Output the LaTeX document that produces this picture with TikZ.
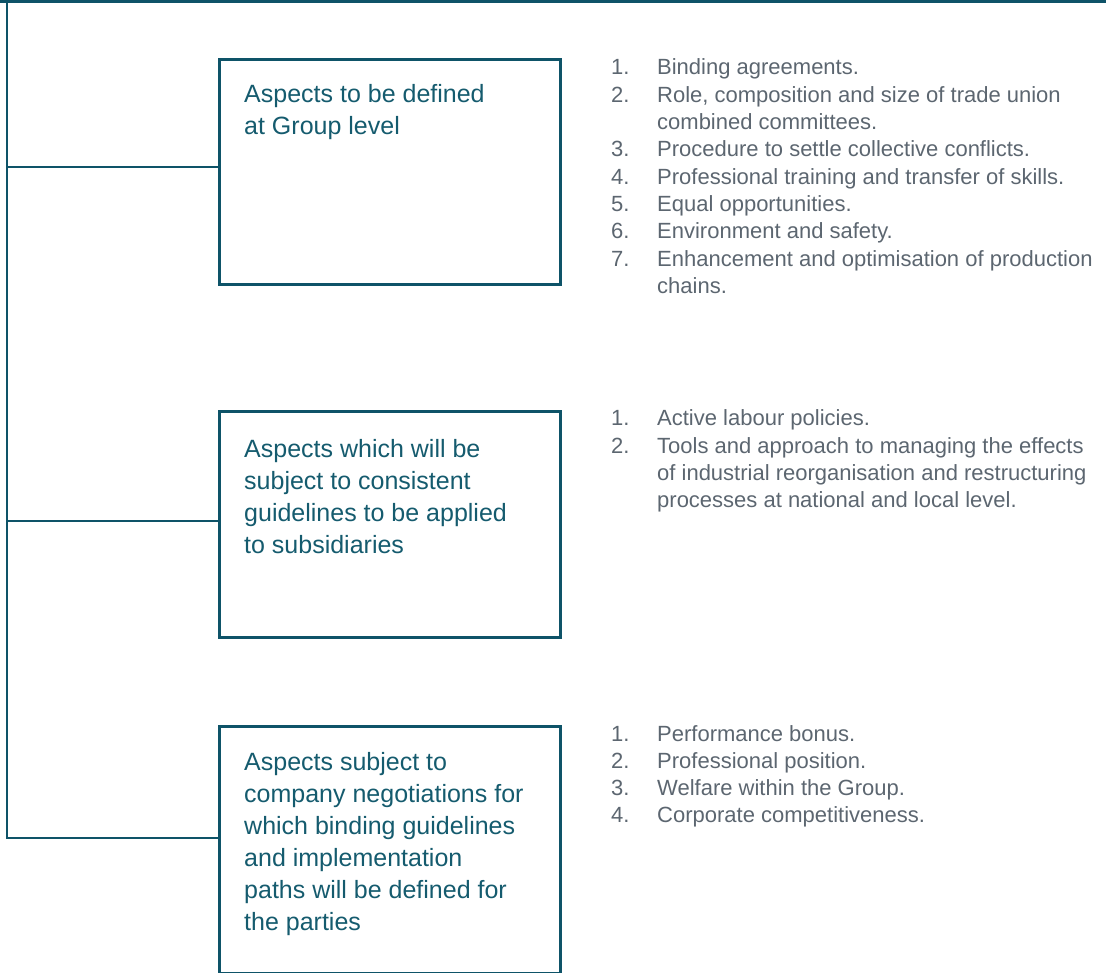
\documentclass[tikz,border=0pt]{standalone}
\usepackage{fontspec}
\setmainfont{Liberation Sans}
\usetikzlibrary{calc}
\definecolor{lineteal}{HTML}{0E5368}
\definecolor{boxtext}{HTML}{155B6E}
\definecolor{listgrey}{HTML}{5C6670}
\tikzset{
  conn/.style={draw=lineteal, line width=2.8pt, line join=miter},
  aspectbox/.style={draw=lineteal, line width=2.8pt, rectangle, minimum width=341pt, minimum height=#1, anchor=north west, inner sep=0pt},
  boxlabel/.style={anchor=base west, inner sep=0pt, text=boxtext, font=\fontsize{25}{32}\selectfont},
  listlabel/.style={anchor=base west, inner sep=0pt, text=listgrey, font=\fontsize{22}{27.3}\selectfont},
}
\begin{document}
\begin{tikzpicture}[x=1pt,y=-1pt]
\useasboundingbox (0,0) rectangle (1106,973);
% boxes
\node[aspectbox=225pt] (b1) at (218,58) {};
\node[aspectbox=226pt] (b2) at (218,410) {};
\node[aspectbox=247pt] (b3) at (218,725) {};
% box texts
\node[boxlabel] (t1) at (244,103) {\begin{tabular}[t]{@{}l@{}}Aspects to be defined\\at Group level\end{tabular}};
\node[boxlabel] (t2) at (244,457) {\begin{tabular}[t]{@{}l@{}}Aspects which will be\\subject to consistent\\guidelines to be applied\\to subsidiaries\end{tabular}};
\node[boxlabel] (t3) at (244,770) {\begin{tabular}[t]{@{}l@{}}Aspects subject to\\company negotiations for\\which binding guidelines\\and implementation\\paths will be defined for\\the parties\end{tabular}};
% lists
\node[listlabel] (l1) at (611,75) {\begin{tabular}[t]{@{}p{46pt}@{}l@{}}
1. & Binding agreements.\\
2. & Role, composition and size of trade union\\
   & combined committees.\\
3. & Procedure to settle collective conflicts.\\
4. & Professional training and transfer of skills.\\
5. & Equal opportunities.\\
6. & Environment and safety.\\
7. & Enhancement and optimisation of production\\
   & chains.
\end{tabular}};
\node[listlabel] (l2) at (611,426) {\begin{tabular}[t]{@{}p{46pt}@{}l@{}}
1. & Active labour policies.\\
2. & Tools and approach to managing the effects\\
   & of industrial reorganisation and restructuring\\
   & processes at national and local level.
\end{tabular}};
\node[listlabel] (l3) at (611,741) {\begin{tabular}[t]{@{}p{46pt}@{}l@{}}
1. & Performance bonus.\\
2. & Professional position.\\
3. & Welfare within the Group.\\
4. & Corporate competitiveness.
\end{tabular}};
% connectors
\coordinate (tl) at (0,1.4);
\coordinate (tr) at (1106,1.4);
\coordinate (vtop) at (7,0);
\coordinate (j1) at (7,167);
\coordinate (j2) at (7,521);
\coordinate (j3) at (7,838);
\draw[conn] (tl) -- (tr);
\draw[conn] (vtop) -- (j3) -- (j3 -| b3.west);
\draw[conn] (j1) -- (j1 -| b1.west);
\draw[conn] (j2) -- (j2 -| b2.west);
\end{tikzpicture}
\end{document}
